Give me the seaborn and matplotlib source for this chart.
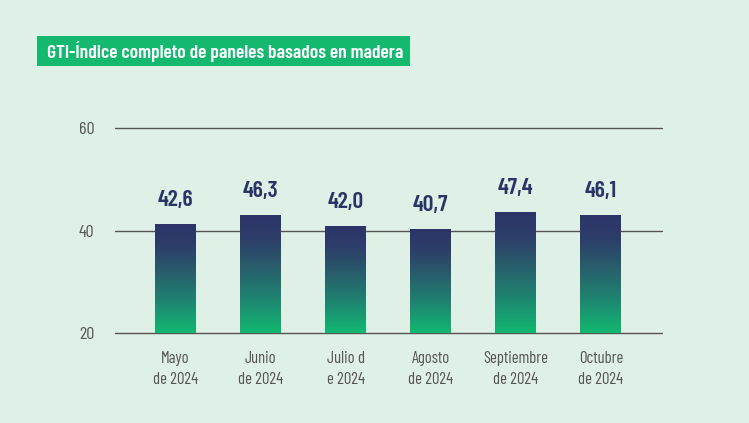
import numpy as np
import matplotlib
matplotlib.use("Agg")
import matplotlib.pyplot as plt
import seaborn as sns
from matplotlib.colors import LinearSegmentedColormap
from matplotlib.patches import Rectangle

# data
months = ["Mayo\nde 2024", "Junio\nde 2024", "Julio d\ne 2024", "Agosto\nde 2024",
          "Septiembre\nde 2024", "Octubre\nde 2024"]
values = [42.6, 46.3, 42.0, 40.7, 47.4, 46.1]
labels = ["42,6", "46,3", "42,0", "40,7", "47,4", "46,1"]
yticks = [20, 40, 60]
title = "GTI-Índice completo de paneles basados en madera"

bg = "#dff0e6"
navy = "#2b3467"
green = "#14b86f"
grey = "#555555"

sns.set_theme(style="white")
plt.rcParams["font.family"] = ["Barlow Condensed", "DejaVu Sans"]

fig = plt.figure(figsize=(7.49, 4.23), dpi=100, facecolor=bg)
ax = fig.add_axes([0.1535, 0.212, 0.7305, 0.485])
ax.set_facecolor(bg)

# visible scale with gridlines
ax.set_ylim(20, 60)
ax.set_yticks(yticks)
ax.grid(axis="y", color=grey, lw=1)
ax.grid(axis="x", visible=False)
for gl in ax.get_ygridlines():
    gl.set_clip_on(False)
for s in ax.spines.values():
    s.set_visible(False)

# bars drawn on a twin axis (the original chart's bars sit on a 0-80 scale)
ax2 = ax.twinx()
sns.barplot(x=list(range(len(values))), y=values, ax=ax2, width=0.48, color=navy,
            native_scale=True)

cmap = LinearSegmentedColormap.from_list(
    "g", [(0, "#12b872"), (0.3, "#1f8270"), (0.55, "#285e6c"), (0.8, "#2d3d69"), (1, "#2e3468")])
grad = np.linspace(0, 1, 256).reshape(-1, 1)
for p in list(ax2.patches):
    x0, w, h = p.get_x(), p.get_width(), p.get_height()
    im = ax2.imshow(grad, extent=[x0, x0 + w, 0, h], aspect="auto", cmap=cmap,
                    origin="lower", zorder=2)
    im.set_clip_path(p)
    p.set_facecolor("none")
    p.set_edgecolor("none")

for i, (v, lab) in enumerate(zip(values, labels)):
    ax2.annotate(lab, (i, v), xytext=(0, 13), textcoords="offset points",
                 ha="center", va="baseline", fontsize=17, fontweight="semibold", color=navy)

ax2.set_ylim(0, 80)
ax2.set_yticks([])
ax2.set_ylabel("")
for s in ax2.spines.values():
    s.set_visible(False)

ax.set_xlim(-0.71, 5.72)
ax.set_xticks(range(len(months)))
ax.set_xticklabels(months, linespacing=1.45)
ax.tick_params(axis="x", length=0, pad=13, labelsize=12, labelcolor=grey)
ax.tick_params(axis="y", length=0, pad=15, labelsize=13, labelcolor=grey)

# title box
fig.patches.append(Rectangle((0.0494, 0.844), 0.498, 0.0709, transform=fig.transFigure,
                             facecolor=green, edgecolor="none"))
fig.text(0.0628, 0.879, title, color="white", fontsize=14, fontweight="semibold",
         va="center", ha="left")

fig.savefig("out.png", dpi=100, facecolor=bg)
